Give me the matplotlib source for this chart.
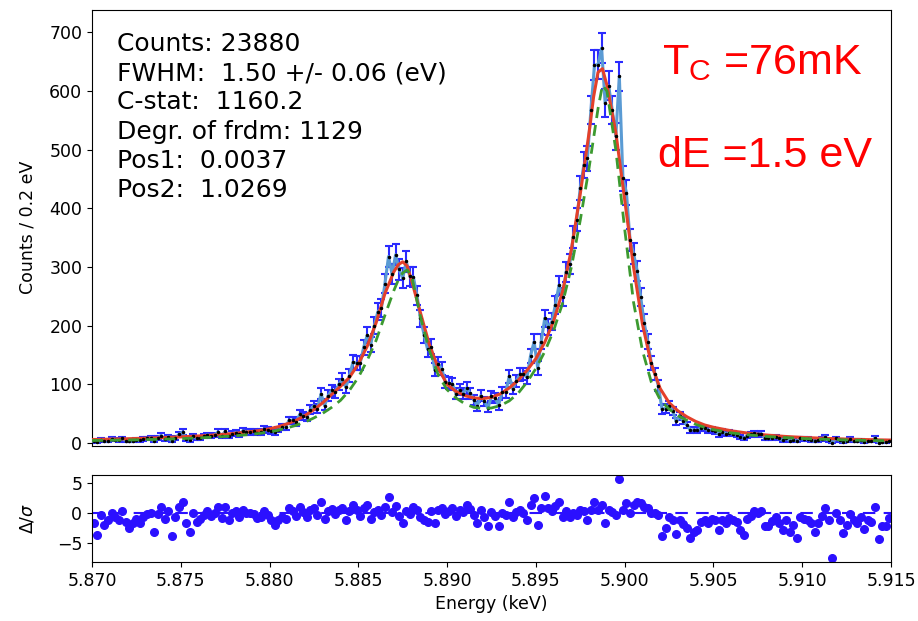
import numpy as np
import matplotlib
matplotlib.use("Agg")
from matplotlib import pyplot as plt

# measured spectrum, 0.2 eV bins starting at 5.8701 keV
counts = [
    3, 2, 6, 3, 4, 7, 6, 5, 8, 4,
    3, 4, 6, 5, 7, 8, 9, 3, 9, 13,
    7, 11, 3, 9, 15, 19, 7, 5, 12, 8,
    9, 12, 14, 12, 14, 19, 12, 20, 12, 16,
    18, 15, 21, 19, 19, 20, 18, 19, 24, 22,
    20, 19, 23, 27, 27, 39, 39, 36, 49, 47,
    44, 57, 64, 59, 84, 64, 81, 90, 87, 100,
    109, 95, 115, 138, 136, 136, 163, 184, 168, 200,
    224, 230, 272, 318, 288, 321, 296, 281, 310, 284,
    283, 252, 213, 185, 160, 164, 125, 135, 127, 104,
    102, 101, 84, 91, 84, 94, 85, 74, 63, 81,
    71, 60, 80, 77, 65, 87, 87, 114, 93, 106,
    117, 118, 112, 149, 173, 128, 173, 213, 198, 207,
    236, 269, 249, 292, 305, 351, 381, 435, 474, 485,
    568, 644, 645, 673, 580, 609, 567, 523, 625, 451,
    427, 346, 323, 294, 249, 205, 173, 136, 118, 98,
    58, 59, 64, 55, 37, 46, 38, 31, 22, 23,
    22, 26, 25, 22, 23, 21, 15, 19, 16, 18,
    16, 14, 10, 8, 13, 15, 17, 15, 16, 8,
    8, 9, 11, 8, 5, 8, 4, 6, 3, 8,
    7, 7, 5, 3, 5, 7, 11, 5, 1, 8,
    5, 2, 3, 7, 4, 3, 5, 2, 4, 3,
    9, 1, 2, 2, 4,
]

# normalised residuals of the fit, one per bin
resid = [
    -1.7, -3.6, -0.3, -1.9, -1.1, 0.1, -0.6, -1.1, 0.3, -1.4,
    -2.5, -1.7, -1.0, -1.7, -0.6, -0.1, 0.0, -3.2, -0.1, 1.1,
    -1.0, 0.3, -3.9, -0.6, 1.1, 1.8, -1.6, -3.2, 0.1, -1.4,
    -1.0, -0.3, 0.3, -0.4, 0.0, 1.1, -0.8, 1.1, -1.2, 0.0,
    0.3, -0.6, 0.6, 0.0, 0.0, -0.1, -0.8, -0.6, 0.3, -0.3,
    -1.1, -1.9, -1.1, -0.6, -1.0, 0.8, 0.4, -0.5, 1.0, 0.2,
    -0.7, 0.5, 0.9, -0.3, 1.9, -1.0, 0.4, 0.7, -0.2, 0.6,
    0.9, -1.1, 0.3, 1.4, 0.5, -0.4, 0.8, 1.4, -1.0, 0.2,
    0.6, -0.3, 1.0, 2.7, 0.2, 1.2, -0.5, -1.7, 0.4, -0.2,
    1.0, 0.5, -0.6, -1.1, -1.5, 0.3, -1.7, 0.6, 0.9, -0.2,
    0.4, 0.8, -0.4, 0.6, 0.2, 1.4, 0.7, -0.3, -1.7, 0.5,
    -0.6, -2.2, 0.2, -0.4, -2.2, 0.1, -0.3, 1.9, -0.6, 0.2,
    0.6, 0.1, -1.1, 1.4, 2.5, -1.9, 0.9, 2.8, 0.8, 0.4,
    1.2, 1.9, -0.6, 0.3, -0.6, 0.1, -0.3, 0.5, 0.3, -1.1,
    0.6, 1.8, 0.5, 1.4, -1.7, 0.6, 0.2, -0.3, 5.7, 0.6,
    1.7, 0.0, 1.3, 1.9, 1.7, 1.1, 0.8, 0.1, 0.0, -0.3,
    -3.9, -2.5, -0.6, -1.2, -3.5, -1.1, -1.8, -2.5, -4.2, -3.1,
    -2.8, -1.4, -1.1, -1.7, -0.9, -1.1, -2.8, -1.1, -1.7, -0.8,
    -1.1, -1.4, -2.8, -3.6, -1.0, -0.4, 0.3, 0.0, 0.3, -2.2,
    -2.2, -1.3, -0.6, -1.6, -2.8, -1.1, -3.1, -2.0, -4.2, -0.6,
    -1.0, -1.1, -1.6, -3.1, -1.7, -0.5, 0.8, -1.1, -7.5, 0.0,
    -1.1, -3.3, -1.9, -0.1, -1.1, -1.7, -0.6, -2.7, -1.2, -1.4,
    1.1, -4.4, -2.2, -2.1, -0.8,
]

# model curves, energy in eV above 5.870 keV
fit_ev = [0, 1, 2, 3, 4, 5, 6, 7, 8, 9,
          9.5, 10, 10.5, 11, 11.5, 12, 12.5, 13, 13.5, 14, 14.5, 15, 15.5, 16, 16.5, 17,
          17.25, 17.5, 17.75,
          18, 18.5, 19, 19.5, 20, 20.5, 21, 21.5, 22, 22.5, 23, 23.5, 24, 24.5, 25,
          25.5, 26, 26.5, 27, 27.5, 28,
          28.25, 28.5, 28.75,
          29, 29.5, 30, 30.5, 31, 31.5, 32, 32.5, 33, 33.5, 34, 34.5, 35,
          36, 37, 38, 39, 40, 41, 42, 43, 44, 45]
fit_best = [6.2, 6.8, 7.5, 8.4, 9.4, 10.7, 12.2, 14.1, 16.6, 19.8,
            21.8, 24.5, 28, 33, 39, 47, 57, 69, 83, 97, 112, 135, 165, 205, 255, 292,
            304, 309, 302,
            277, 222, 168, 128, 100, 88, 81, 77, 76, 78, 84, 94, 107, 124, 144,
            172, 208, 258, 330, 425, 530,
            590, 632, 638,
            610, 530, 415, 300, 203, 135, 93, 69, 55, 45, 37, 31, 27,
            21, 16.8, 13.8, 11.5, 9.8, 8.5, 7.4, 6.5, 5.8, 5.2]
fit_init = [4.5, 4.9, 5.4, 6.0, 6.8, 7.7, 8.9, 10.4, 12.4, 15.1,
            16.9, 19.2, 22, 26, 30.5, 36, 43, 51, 61, 73, 90, 112, 141, 175, 218, 260,
            278, 290, 295,
            285, 215, 158, 116, 91, 77, 67, 61, 59, 60, 64, 72, 85, 104, 127,
            156, 192, 238, 300, 380, 470,
            520, 570, 610,
            600, 500, 365, 240, 158, 104, 74, 58, 47, 39, 32, 27, 23,
            17.5, 14, 11.4, 9.5, 8, 6.8, 5.9, 5.1, 4.5, 4.0]

info = ("Counts: 23880\n"
        "FWHM:  1.50 +/- 0.06 (eV)\n"
        "C-stat:  1160.2\n"
        "Degr. of frdm: 1129\n"
        "Pos1:  0.0037\n"
        "Pos2:  1.0269")

energy = 5.8701 + 0.0002 * np.arange(len(counts))
counts = np.array(counts)
err = np.sqrt(counts)
fit_kev = 5.870 + np.array(fit_ev) / 1000.0

plt.rcParams["font.size"] = 12.5

fig = plt.figure(figsize=(9.18, 6.21), dpi=100)
ax = fig.add_axes([0.1002, 0.2826, 0.8704, 0.7013])
axr = fig.add_axes([0.1002, 0.095, 0.8704, 0.140], sharex=ax)

ax.errorbar(energy, counts, yerr=err, fmt="none", ecolor="#2b2bff",
            elinewidth=1.5, capsize=3, capthick=1.5, zorder=2)
ax.plot(energy, counts, color="#5a9bd4", lw=2.2, zorder=3)
ax.plot(fit_kev, fit_best, color="#e4402a", lw=2.2, zorder=4)
ax.plot(energy, counts, ".", color="black", ms=3, zorder=5)
ax.plot(fit_kev, fit_init, "--", color="#3c9a30", lw=2, dashes=(4, 2.5), zorder=6)

ax.set_xlim(5.870, 5.915)
ax.set_ylim(-4, 738)
ax.set_yticks([0, 100, 200, 300, 400, 500, 600, 700])
ax.tick_params(axis="x", bottom=False, labelbottom=False)
ax.set_ylabel("Counts / 0.2 eV")

ax.text(0.031, 0.95, info, transform=ax.transAxes, va="top", ha="left",
        fontsize=18, linespacing=1.28)
ax.text(0.713, 0.852, r"T$_\mathregular{C}$ =76mK", transform=ax.transAxes,
        color="red", fontsize=31, family="Liberation Sans", va="baseline")
ax.text(0.708, 0.64, "dE =1.5 eV", transform=ax.transAxes,
        color="red", fontsize=31, family="Liberation Sans", va="baseline")

axr.plot(energy, resid, "o", color="#2b10ff", ms=5.5)
axr.axhline(0, color="#2b10ff", ls="--", lw=1.5, dashes=(6, 4))
axr.set_yticks([-5, 0, 5])
axr.set_xticks(np.arange(5.870, 5.9151, 0.005))
axr.xaxis.set_major_formatter(plt.FormatStrFormatter("%.3f"))
axr.set_xlabel("Energy (keV)")
axr.set_ylabel(r"$\Delta/\sigma$")

ax.yaxis.set_label_coords(-0.07, 0.5)
axr.yaxis.set_label_coords(-0.07, 0.5)

fig.savefig("out.png", dpi=100)
